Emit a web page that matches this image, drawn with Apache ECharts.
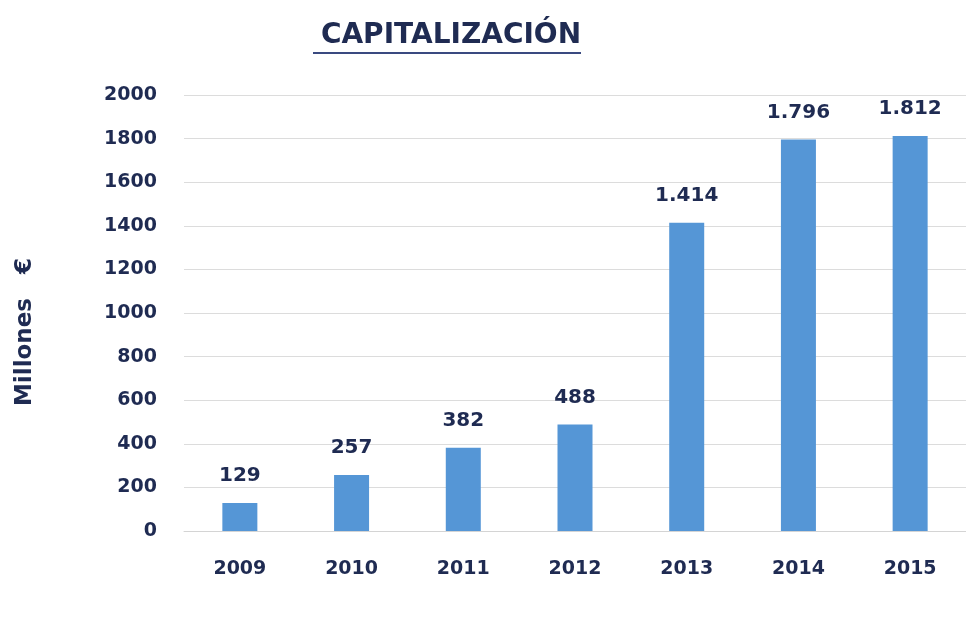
<!DOCTYPE html>
<html>
<head>
<meta charset="utf-8">
<script src="https://cdn.jsdelivr.net/npm/echarts@6/dist/echarts.min.js"></script>
<style>
  html, body { margin: 0; padding: 0; background: #ffffff; }
  #chart { width: 966px; height: 618px; }
</style>
</head>
<body>
<div id="chart"></div>
<script>
// Capitalización anual (millones de euros)
const years = ['2009', '2010', '2011', '2012', '2013', '2014', '2015'];
const capitalizacion = [129, 257, 382, 488, 1414, 1796, 1812];
const yTicks = { min: 0, max: 2000, interval: 200 };
const titleText = 'CAPITALIZACIÓN';
const axisTitle = 'Millones   €';

const navy = '#1f2b52';
const font = 'DejaVu Sans';

// Spanish thousands separator for the bar labels
function fmtEs(v) {
  return String(v).replace(/\B(?=(\d{3})+(?!\d))/g, '.');
}

const chart = echarts.init(document.getElementById('chart'));
chart.setOption({
  backgroundColor: '#ffffff',
  animation: false,
  title: {
    text: titleText,
    left: 446,
    top: 17,
    textAlign: 'center',
    textStyle: { color: navy, fontFamily: font, fontWeight: 'bold', fontSize: 28 }
  },
  graphic: [
    {
      type: 'rect',
      shape: { x: 313, y: 52, width: 268, height: 2 },
      style: { fill: '#3a4a80' }
    },
    {
      type: 'text',
      x: 25,
      y: 332,
      rotation: Math.PI / 2,
      style: {
        text: axisTitle,
        fill: navy,
        font: 'bold 23px "DejaVu Sans"',
        align: 'center',
        verticalAlign: 'middle'
      }
    }
  ],
  grid: { left: 184, top: 95, width: 790, height: 436 },
  xAxis: {
    type: 'category',
    data: years,
    axisLine: { show: true, lineStyle: { color: '#d4d4d4', width: 1 } },
    axisTick: { show: false },
    axisLabel: { color: navy, fontFamily: font, fontWeight: 'bold', fontSize: 19, margin: 29 }
  },
  yAxis: {
    type: 'value',
    min: yTicks.min,
    max: yTicks.max,
    interval: yTicks.interval,
    axisLine: { show: false },
    axisTick: { show: false },
    splitLine: { lineStyle: { color: '#dcdcdc', width: 1 } },
    axisLabel: {
      color: navy, fontFamily: font, fontWeight: 'bold', fontSize: 19, margin: 27,
      formatter: v => String(v)
    }
  },
  series: [{
    type: 'bar',
    data: capitalizacion,
    barWidth: 35,
    itemStyle: { color: '#5596d6' },
    label: {
      show: true,
      position: 'top',
      distance: 17,
      color: navy,
      fontFamily: font,
      fontWeight: 'bold',
      fontSize: 20,
      formatter: p => fmtEs(p.value)
    }
  }]
});
</script>
</body>
</html>
